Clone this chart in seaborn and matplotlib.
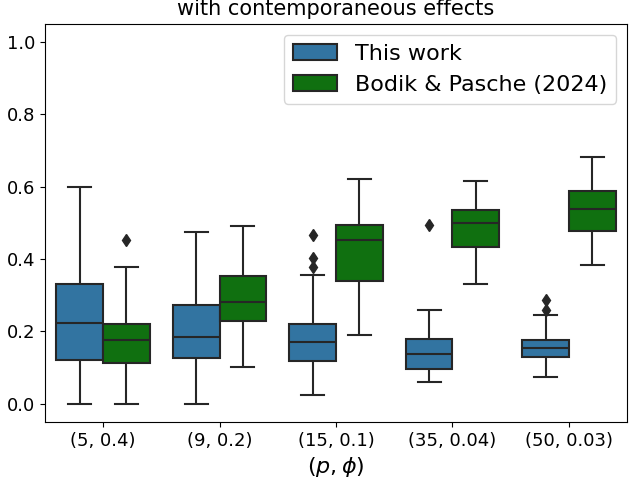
import matplotlib
matplotlib.use("Agg")
import matplotlib.pyplot as plt
import pandas as pd
import seaborn as sns

# Settings (p, phi) and methods
settings = ["(5, 0.4)", "(9, 0.2)", "(15, 0.1)", "(35, 0.04)", "(50, 0.03)"]
methods = ["This work", "Bodik & Pasche (2024)"]

# Box summaries: whisker low, q1, median, q3, whisker high, outliers
this_lo = [0.0, 0.0, 0.025, 0.059, 0.075]
this_q1 = [0.120, 0.126, 0.117, 0.097, 0.130]
this_med = [0.222, 0.184, 0.172, 0.137, 0.155]
this_q3 = [0.332, 0.274, 0.219, 0.180, 0.177]
this_hi = [0.600, 0.475, 0.355, 0.260, 0.245]
this_out = [[], [], [0.378, 0.402, 0.465], [0.495], [0.258, 0.286]]

bp_lo = [0.0, 0.102, 0.189, 0.332, 0.382]
bp_q1 = [0.112, 0.230, 0.338, 0.432, 0.477]
bp_med = [0.177, 0.280, 0.452, 0.499, 0.538]
bp_q3 = [0.221, 0.352, 0.493, 0.536, 0.588]
bp_hi = [0.377, 0.490, 0.620, 0.615, 0.681]
bp_out = [[0.453], [], [], [], []]


def sample_from_stats(lo, q1, med, q3, hi, out):
    # 4k+1 points so the quartiles land exactly on q1 / median / q3
    k = len(out) + 1
    return [lo] + [q1] * k + [med] * k + [q3] * k + [hi] + list(out)


rows = []
stats = {
    methods[0]: (this_lo, this_q1, this_med, this_q3, this_hi, this_out),
    methods[1]: (bp_lo, bp_q1, bp_med, bp_q3, bp_hi, bp_out),
}
for method, (lo, q1, med, q3, hi, out) in stats.items():
    for i, s in enumerate(settings):
        for v in sample_from_stats(lo[i], q1[i], med[i], q3[i], hi[i], out[i]):
            rows.append({"setting": s, "method": method, "value": v})
df = pd.DataFrame(rows)

fig, ax = plt.subplots(figsize=(6.4, 4.8), dpi=100)
sns.boxplot(data=df, x="setting", y="value", hue="method", order=settings,
            hue_order=methods, palette=["tab:blue", "green"], saturation=0.75,
            linecolor="#262626", linewidth=1.5, width=0.8, ax=ax,
            flierprops=dict(marker="d", markersize=6, markerfacecolor="#262626",
                            markeredgecolor="#262626"))

ax.set_ylim(-0.05, 1.05)
ax.set_xlabel(r"$(p, \phi)$", fontsize=16)
ax.set_ylabel("")
ax.set_title("with contemporaneous effects", fontsize=15)
ax.tick_params(labelsize=13)
sns.move_legend(ax, "upper right", title=None, fontsize=16)

fig.subplots_adjust(left=0.070, right=0.980, top=0.951, bottom=0.121)
plt.savefig("out.png", dpi=100)
